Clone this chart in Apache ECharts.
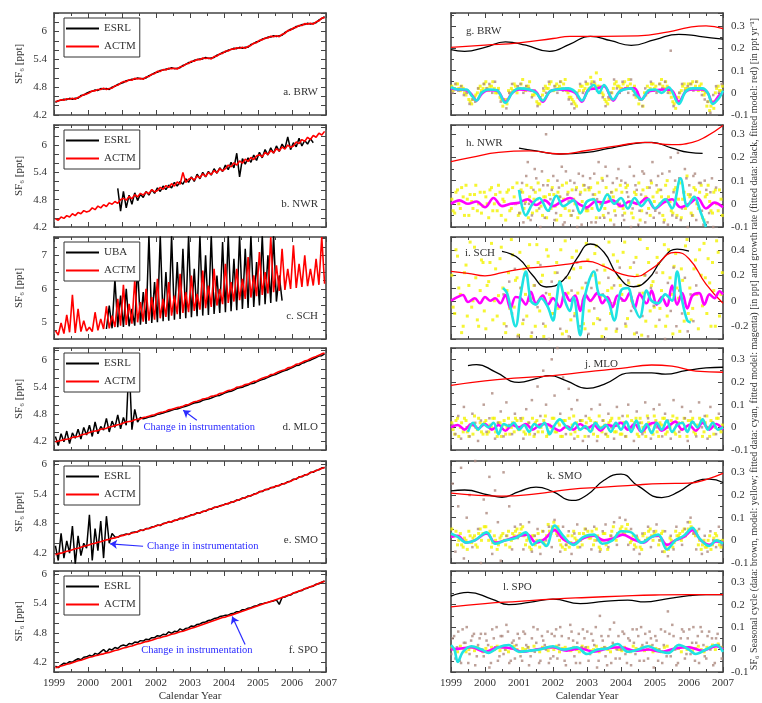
<!DOCTYPE html>
<html><head><meta charset="utf-8">
<script src="https://cdn.jsdelivr.net/npm/echarts/dist/echarts.min.js"></script>
<style>html,body{margin:0;padding:0;background:#fff}#c{width:762px;height:703px}</style>
</head><body><div id="c"></div>
<script>
const _ = null;
const yearLabels = ['1999','2000','2001','2002','2003','2004','2005','2006','2007'];

// ---------- LEFT COLUMN: monthly SF6 mixing ratios [ppt], Jan 1999 .. Dec 2006 ----------
const brwESRL = [
4.47,4.51,4.52,4.54,4.53,4.56,4.54,4.56,4.56,4.62,4.63,4.67,
4.70,4.71,4.74,4.73,4.77,4.76,4.77,4.75,4.80,4.82,4.86,4.88,
4.90,4.94,4.95,4.97,4.97,5.00,4.98,4.99,5.00,5.05,5.07,5.11,
5.12,5.16,5.17,5.19,5.19,5.22,5.20,5.21,5.22,5.27,5.29,5.33,
5.34,5.38,5.39,5.41,5.41,5.44,5.42,5.43,5.44,5.49,5.51,5.55,
5.56,5.60,5.61,5.64,5.63,5.66,5.64,5.66,5.66,5.72,5.74,5.78,
5.79,5.84,5.85,5.88,5.88,5.91,5.89,5.91,5.92,5.98,6.01,6.05,
6.06,6.11,6.12,6.15,6.15,6.18,6.16,6.18,6.19,6.25,6.28,6.32];
const brwACTM = [
4.49,4.50,4.53,4.52,4.55,4.54,4.56,4.54,4.58,4.60,4.64,4.65,
4.68,4.72,4.72,4.75,4.75,4.78,4.75,4.77,4.78,4.83,4.84,4.89,
4.92,4.92,4.96,4.95,4.99,4.98,4.99,4.97,5.02,5.03,5.08,5.09,
5.14,5.14,5.18,5.17,5.21,5.20,5.21,5.19,5.24,5.25,5.30,5.31,
5.36,5.36,5.40,5.39,5.43,5.42,5.43,5.41,5.46,5.47,5.52,5.53,
5.58,5.58,5.62,5.62,5.65,5.64,5.66,5.64,5.68,5.70,5.75,5.76,
5.81,5.82,5.86,5.86,5.90,5.89,5.91,5.89,5.94,5.96,6.02,6.03,
6.08,6.09,6.13,6.13,6.17,6.16,6.18,6.16,6.21,6.23,6.29,6.30];

const nwrESRL = [
_,_,_,_,_,_,_,_,_,_,_,_,
_,_,_,_,_,_,_,_,_,_,5.05,4.55,
4.98,4.62,4.90,4.70,4.95,4.78,4.92,4.85,4.98,4.90,5.02,4.94,
5.06,4.98,5.10,5.02,5.12,5.06,5.18,5.10,5.20,5.14,5.26,5.18,
5.30,5.20,5.36,5.26,5.40,5.30,5.42,5.34,5.48,5.38,5.50,5.42,
5.56,5.46,5.62,5.50,5.82,5.30,5.70,5.58,5.72,5.62,5.78,5.66,
5.84,5.72,5.90,5.78,5.94,5.82,5.98,5.86,6.02,5.92,6.18,5.90,
6.05,5.96,6.15,5.98,6.10,6.02,6.14,6.05,_,_,_,_];
const nwrACTM = [
4.38,4.35,4.42,4.39,4.45,4.42,4.49,4.45,4.52,4.49,4.56,4.53,
4.55,4.62,4.58,4.66,4.62,4.69,4.65,4.73,4.70,4.76,4.72,4.80,
4.83,4.79,4.87,4.82,4.91,4.86,4.94,4.90,4.97,4.93,5.02,4.97,
5.00,5.07,5.03,5.11,5.07,5.15,5.10,5.19,5.14,5.40,5.18,5.25,
5.28,5.23,5.32,5.28,5.37,5.31,5.40,5.35,5.44,5.39,5.48,5.43,
5.48,5.56,5.52,5.61,5.56,5.65,5.60,5.69,5.64,5.73,5.68,5.76,
5.79,5.74,5.84,5.79,5.88,5.83,5.92,5.87,5.96,5.91,6.00,5.95,
5.98,6.07,6.03,6.12,6.08,6.17,6.12,6.21,6.17,6.26,6.22,6.30];

const schUBA = [
_,_,_,_,_,_,_,_,_,_,_,_,
_,_,_,_,_,_,4.80,5.50,4.82,6.30,4.85,5.80,
4.86,6.00,4.88,5.40,4.90,6.70,4.93,5.90,4.95,7.60,4.98,6.20,
5.00,7.60,5.03,6.50,5.05,7.60,5.08,6.80,5.10,7.20,5.12,7.60,
5.15,6.60,5.18,7.60,5.20,7.00,5.22,7.60,5.25,6.40,5.28,7.40,
5.30,7.60,5.33,6.90,5.36,7.60,5.40,7.20,5.43,7.60,5.46,6.80,
5.50,7.60,5.54,7.00,5.58,7.60,5.62,6.40,5.65,_,_,_,
_,_,_,_,_,_,_,_,_,_,_,_];
const schACTM = [
4.75,4.62,4.98,4.66,5.22,4.70,5.82,4.68,5.40,4.72,5.05,4.74,
4.85,4.72,5.30,4.76,5.10,4.80,5.48,4.82,5.20,4.86,5.70,4.90,
6.12,4.92,5.55,4.96,6.26,5.00,5.60,5.02,6.00,5.05,5.75,5.08,
6.30,5.12,5.70,5.16,6.20,5.20,5.80,5.24,6.45,5.28,5.90,5.30,
6.40,5.34,5.85,5.38,6.55,5.42,6.10,5.46,6.60,5.50,6.00,5.54,
6.75,5.58,6.20,5.62,6.60,5.66,6.30,5.70,6.95,5.74,6.40,5.78,
7.10,5.82,6.50,5.86,7.55,5.90,6.70,5.94,7.20,5.97,6.60,6.00,
7.30,6.03,6.75,6.06,7.00,6.08,6.60,6.10,6.90,6.12,7.55,6.15];

const mloESRL = [
4.30,4.10,4.36,4.18,4.42,4.14,4.38,4.26,4.46,4.24,4.50,4.33,
4.55,4.30,4.62,4.36,4.52,4.44,4.70,4.40,4.64,4.50,4.78,4.47,
4.72,4.55,5.95,4.45,4.90,4.62,4.72,4.69,4.71,4.73,4.74,4.76,
4.79,4.80,4.82,4.84,4.86,4.88,4.90,4.91,4.93,4.95,4.97,4.99,
5.02,5.04,5.05,5.07,5.10,5.12,5.13,5.15,5.18,5.20,5.21,5.24,
5.27,5.29,5.30,5.33,5.36,5.38,5.39,5.42,5.44,5.47,5.48,5.51,
5.54,5.56,5.58,5.61,5.64,5.66,5.68,5.71,5.74,5.76,5.78,5.81,
5.84,5.87,5.88,5.92,5.94,5.97,5.99,6.02,6.05,6.08,6.09,6.13];
const mloACTM = [
4.18,4.20,4.21,4.23,4.24,4.25,4.28,4.29,4.30,4.33,4.35,4.36,
4.39,4.41,4.42,4.43,4.46,4.47,4.48,4.51,4.52,4.54,4.56,4.57,
4.60,4.62,4.63,4.64,4.67,4.68,4.69,4.72,4.73,4.75,4.77,4.78,
4.81,4.83,4.84,4.86,4.89,4.90,4.92,4.94,4.95,4.97,5.00,5.01,
5.04,5.07,5.08,5.10,5.13,5.14,5.16,5.19,5.20,5.22,5.25,5.26,
5.29,5.32,5.33,5.35,5.39,5.40,5.42,5.45,5.46,5.49,5.52,5.53,
5.56,5.59,5.61,5.63,5.67,5.68,5.71,5.74,5.76,5.78,5.82,5.83,
5.86,5.90,5.91,5.94,5.97,5.99,6.02,6.05,6.07,6.10,6.13,6.15];

const smoESRL = [
4.35,4.05,4.60,4.10,4.45,4.20,4.75,3.98,4.55,4.15,4.40,4.30,
4.98,4.05,4.70,4.25,4.85,4.10,4.95,4.40,4.60,4.53,4.52,4.56,
4.57,4.59,4.58,4.62,4.63,4.63,4.67,4.66,4.70,4.70,4.73,4.74,
4.77,4.76,4.80,4.81,4.84,4.83,4.87,4.87,4.91,4.90,4.94,4.95,
4.98,4.98,5.02,5.01,5.05,5.05,5.09,5.09,5.13,5.13,5.16,5.17,
5.20,5.20,5.24,5.24,5.28,5.28,5.32,5.32,5.36,5.36,5.40,5.41,
5.45,5.45,5.49,5.49,5.53,5.53,5.57,5.57,5.61,5.61,5.65,5.66,
5.70,5.70,5.75,5.75,5.79,5.79,5.84,5.84,5.88,5.89,5.93,5.94];
const smoACTM = [
4.17,4.19,4.20,4.22,4.24,4.25,4.27,4.29,4.30,4.32,4.34,4.35,
4.37,4.39,4.40,4.42,4.43,4.45,4.47,4.48,4.50,4.51,4.53,4.55,
4.56,4.58,4.59,4.61,4.62,4.64,4.66,4.67,4.69,4.70,4.72,4.74,
4.76,4.77,4.79,4.81,4.83,4.84,4.86,4.88,4.90,4.91,4.93,4.95,
4.97,4.99,5.01,5.02,5.04,5.06,5.08,5.10,5.12,5.14,5.15,5.17,
5.19,5.21,5.23,5.25,5.27,5.29,5.31,5.33,5.35,5.37,5.39,5.41,
5.44,5.46,5.48,5.50,5.52,5.54,5.56,5.58,5.60,5.62,5.64,5.66,
5.69,5.71,5.74,5.76,5.78,5.80,5.83,5.85,5.87,5.90,5.92,5.94];

const spoESRL = [
4.12,4.09,4.14,4.18,4.17,4.21,4.20,4.24,4.27,4.25,4.30,4.31,
4.34,4.32,4.38,4.36,4.41,4.46,4.40,4.47,4.45,4.50,4.48,4.53,
4.55,4.53,4.58,4.57,4.61,4.60,4.64,4.63,4.67,4.66,4.70,4.70,
4.74,4.73,4.77,4.76,4.82,4.79,4.83,4.82,4.88,4.85,4.89,4.90,
4.94,4.93,4.97,4.98,5.01,5.02,5.05,5.06,5.09,5.10,5.13,5.14,
5.16,5.16,5.19,5.20,5.23,5.23,5.27,5.27,5.30,5.31,5.34,5.35,
5.38,5.39,5.41,5.42,5.44,5.45,5.47,5.38,5.52,5.53,5.56,5.57,
5.61,5.62,5.65,5.66,5.70,5.71,5.74,5.75,5.79,5.80,5.83,5.86];
const spoACTM = [
4.09,4.10,4.12,4.14,4.16,4.17,4.19,4.21,4.23,4.24,4.26,4.28,
4.30,4.31,4.33,4.34,4.36,4.37,4.39,4.40,4.42,4.44,4.45,4.47,
4.49,4.50,4.52,4.53,4.55,4.57,4.58,4.60,4.62,4.63,4.65,4.67,
4.69,4.70,4.72,4.73,4.75,4.77,4.78,4.80,4.82,4.83,4.85,4.87,
4.89,4.91,4.93,4.95,4.97,4.99,5.01,5.03,5.05,5.07,5.09,5.11,
5.12,5.14,5.16,5.18,5.20,5.22,5.24,5.26,5.28,5.30,5.32,5.34,
5.36,5.38,5.40,5.42,5.44,5.46,5.48,5.50,5.52,5.54,5.56,5.58,
5.61,5.63,5.65,5.67,5.70,5.72,5.74,5.76,5.78,5.81,5.83,5.85];

// ---------- RIGHT COLUMN ----------
// growth rates [year, ppt/yr]
const brwGrowthData  = [[1999,0.195],[1999.4,0.187],[2000,0.205],[2000.6,0.23],[2001.2,0.215],[2001.9,0.187],[2002.5,0.22],[2003.1,0.255],[2003.7,0.235],[2004.3,0.214],[2005,0.24],[2005.7,0.264],[2006.3,0.255],[2007,0.242]];
const brwGrowthModel = [[1999,0.205],[2000,0.215],[2001,0.225],[2002,0.245],[2002.5,0.255],[2003.5,0.255],[2004.5,0.257],[2005.4,0.275],[2006,0.295],[2006.5,0.302],[2007,0.29]];
const nwrGrowthData  = [[2001,0.24],[2001.5,0.228],[2002.2,0.215],[2003,0.222],[2003.6,0.238],[2004.3,0.258],[2004.9,0.265],[2005.5,0.24],[2006,0.222],[2006.4,0.218]];
const nwrGrowthModel = [[1999,0.182],[1999.6,0.2],[2000.4,0.222],[2001.3,0.228],[2002.2,0.215],[2003,0.23],[2003.9,0.25],[2004.7,0.265],[2005.5,0.255],[2006.1,0.265],[2006.5,0.29],[2007,0.338]];
const schGrowthData  = [[2000.5,0.387],[2001,0.33],[2001.4,0.2],[2001.8,0.108],[2002.3,0.16],[2002.7,0.33],[2003.1,0.445],[2003.5,0.38],[2003.9,0.2],[2004.37,0.11],[2004.8,0.17],[2005.2,0.32],[2005.65,0.405],[2006.0,0.39]];
const schGrowthModel = [[1999,0.23],[1999.5,0.215],[2000,0.195],[2000.5,0.22],[2001.1,0.25],[2001.9,0.27],[2002.5,0.29],[2003.0,0.31],[2003.5,0.27],[2004.0,0.21],[2004.4,0.19],[2004.9,0.25],[2005.6,0.38],[2006.0,0.33],[2006.5,0.13],[2007,-0.02]];
const mloGrowthData  = [[1999.5,0.272],[1999.75,0.277],[2000.3,0.245],[2001.0,0.198],[2001.5,0.215],[2001.9,0.228],[2002.4,0.205],[2003.0,0.172],[2003.5,0.19],[2004.3,0.24],[2004.9,0.24],[2005.3,0.235],[2005.9,0.25],[2006.5,0.262],[2007,0.265]];
const mloGrowthModel = [[1999,0.185],[2000,0.205],[2001,0.218],[2002,0.228],[2003,0.245],[2004,0.26],[2004.9,0.275],[2005.5,0.27],[2006.2,0.248],[2007,0.243]];
const smoGrowthData  = [[1999,0.218],[1999.4,0.222],[2000.1,0.2],[2000.5,0.19],[2001,0.215],[2001.5,0.235],[2002.0,0.215],[2002.55,0.176],[2003.0,0.2],[2003.5,0.265],[2004.0,0.292],[2004.5,0.24],[2005.2,0.188],[2005.7,0.215],[2006.2,0.26],[2006.6,0.27],[2007,0.255]];
const smoGrowthModel = [[1999,0.208],[1999.8,0.198],[2000.5,0.195],[2001.5,0.205],[2002.5,0.225],[2003.5,0.235],[2004.5,0.245],[2005.2,0.25],[2006,0.252],[2006.5,0.268],[2007,0.295]];
const spoGrowthData  = [[1999,0.238],[1999.5,0.255],[2000.2,0.225],[2000.7,0.2],[2001.3,0.21],[2002,0.225],[2002.8,0.205],[2003.5,0.215],[2004.2,0.22],[2004.7,0.212],[2005.3,0.225],[2006,0.24],[2006.5,0.245],[2007,0.245]];
const spoGrowthModel = [[1999,0.19],[2000,0.205],[2001,0.215],[2002,0.225],[2003,0.232],[2004,0.238],[2005,0.243],[2006,0.245],[2007,0.245]];

// fitted seasonal cycles [year, ppt]
const brwSeasModel = [[1999.0,0.02],[1999.2,0.015],[1999.45,0.012],[1999.62,-0.01],[1999.75,-0.035],[1999.9,-0.005],[2000.1,0.012],[2000.35,0.01],[2000.6,-0.04],[2000.8,0.0],[2001.0,0.015],[2001.3,0.012],[2001.5,0.005],[2001.7,-0.04],[2001.9,0.005],[2002.1,0.015],[2002.45,0.012],[2002.65,0.0],[2002.85,-0.04],[2003.05,0.015],[2003.3,0.02],[2003.5,0.03],[2003.77,-0.035],[2003.95,0.005],[2004.2,0.02],[2004.4,0.02],[2004.6,-0.03],[2004.8,0.005],[2005.0,0.012],[2005.3,0.015],[2005.5,0.01],[2005.7,-0.04],[2005.9,0.005],[2006.1,0.015],[2006.4,0.015],[2006.55,0.0],[2006.7,-0.045],[2006.9,-0.01],[2007.0,0.0]];
const brwSeasData = [[1999.0,0.025],[1999.2,0.015],[1999.45,0.015],[1999.62,-0.015],[1999.75,-0.035],[1999.9,0.0],[2000.1,0.015],[2000.35,0.012],[2000.6,-0.045],[2000.8,0.0],[2001.0,0.02],[2001.3,0.015],[2001.5,0.0],[2001.7,-0.035],[2001.9,0.005],[2002.1,0.015],[2002.45,0.02],[2002.65,0.005],[2002.85,-0.035],[2003.05,0.015],[2003.2,0.035],[2003.35,0.0],[2003.5,0.035],[2003.77,-0.03],[2003.95,0.005],[2004.1,0.015],[2004.3,0.02],[2004.45,-0.01],[2004.6,-0.03],[2004.8,0.01],[2005.0,0.015],[2005.2,0.0],[2005.4,0.025],[2005.7,-0.05],[2005.9,0.005],[2006.1,0.02],[2006.4,0.02],[2006.55,0.0],[2006.7,-0.05],[2006.9,-0.02],[2007.0,0.01]];
const nwrSeasModel = [[1999.0,0.0],[1999.25,0.015],[1999.5,0.0],[1999.75,0.01],[2000.0,-0.015],[2000.25,0.025],[2000.5,-0.01],[2000.75,0.0],[2001.0,0.005],[2001.25,0.02],[2001.5,-0.005],[2001.75,0.015],[2002.0,-0.01],[2002.25,0.01],[2002.5,0.025],[2002.75,0.0],[2003.0,-0.015],[2003.25,0.01],[2003.5,0.005],[2003.75,0.015],[2004.0,-0.01],[2004.25,0.01],[2004.5,0.0],[2004.75,0.025],[2005.0,-0.02],[2005.25,0.005],[2005.5,0.02],[2005.75,-0.015],[2006.0,0.0],[2006.25,0.025],[2006.5,-0.02],[2006.75,0.005],[2007.0,-0.015]];
const nwrSeasData = [[2001.0,0.06],[2001.2,-0.05],[2001.4,0.0],[2001.6,0.025],[2001.85,-0.03],[2002.1,0.035],[2002.3,-0.01],[2002.6,0.015],[2002.8,-0.04],[2003.0,0.01],[2003.2,0.02],[2003.35,-0.03],[2003.6,0.04],[2003.8,0.0],[2004.0,0.025],[2004.2,-0.02],[2004.4,0.025],[2004.6,-0.01],[2004.8,0.02],[2005.0,-0.02],[2005.3,0.02],[2005.5,-0.02],[2005.75,0.11],[2005.95,-0.01],[2006.15,0.03],[2006.35,-0.04],[2006.5,-0.1]];
const schSeasModel = [[1999.0,0.0],[1999.2,0.03],[1999.35,0.045],[1999.5,-0.01],[1999.7,0.02],[1999.85,-0.02],[2000.0,0.03],[2000.15,0.0],[2000.3,0.02],[2000.45,-0.02],[2000.6,0.045],[2000.75,-0.06],[2000.9,0.03],[2001.05,0.02],[2001.2,-0.03],[2001.35,0.07],[2001.5,-0.02],[2001.7,0.04],[2001.85,-0.03],[2002.0,0.02],[2002.2,-0.05],[2002.35,0.06],[2002.5,0.0],[2002.65,0.04],[2002.8,-0.08],[2002.95,0.05],[2003.1,0.0],[2003.3,0.06],[2003.45,-0.02],[2003.6,0.03],[2003.75,-0.05],[2003.9,0.04],[2004.1,0.0],[2004.25,0.06],[2004.4,-0.06],[2004.55,0.05],[2004.75,-0.02],[2004.9,0.08],[2005.05,-0.03],[2005.2,0.03],[2005.35,-0.04],[2005.5,0.12],[2005.65,-0.03],[2005.8,0.06],[2005.95,-0.06],[2006.1,0.04],[2006.3,0.06],[2006.45,-0.03],[2006.6,0.05],[2006.75,0.02],[2006.9,0.075],[2007.0,0.05]];
const schSeasData = [[2000.53,0.1],[2000.65,0.06],[2000.9,-0.2],[2001.05,0.05],[2001.2,0.23],[2001.35,0.0],[2001.5,-0.03],[2001.65,0.02],[2001.85,-0.05],[2002.0,-0.155],[2002.1,0.0],[2002.2,0.15],[2002.35,0.0],[2002.5,-0.08],[2002.6,0.03],[2002.8,-0.27],[2002.95,0.05],[2003.2,0.23],[2003.35,0.05],[2003.5,0.04],[2003.65,-0.02],[2003.8,-0.155],[2004.0,0.08],[2004.2,0.1],[2004.35,-0.02],[2004.55,-0.13],[2004.75,0.08],[2004.9,0.0],[2005.1,-0.02],[2005.3,0.05],[2005.5,0.0],[2005.65,0.23],[2005.8,0.0],[2005.95,-0.155],[2006.05,-0.17]];
const mloSeasModel = [[1999,0.0],[1999.2,0.01],[1999.4,-0.01],[1999.6,0.015],[1999.8,-0.005],[2000,0.015],[2000.2,-0.01],[2000.4,0.01],[2000.6,-0.015],[2000.8,0.01],[2001,0.0],[2001.2,0.015],[2001.4,-0.01],[2001.6,0.01],[2001.8,0.015],[2002,0.0],[2002.2,-0.015],[2002.4,0.005],[2002.6,-0.01],[2002.8,0.015],[2003,-0.005],[2003.2,0.01],[2003.4,-0.015],[2003.6,0.01],[2003.8,0.005],[2004,0.02],[2004.2,-0.01],[2004.4,0.015],[2004.6,-0.02],[2004.8,0.01],[2005,0.02],[2005.2,-0.015],[2005.4,0.005],[2005.6,0.025],[2005.8,-0.01],[2006,0.01],[2006.2,-0.015],[2006.4,0.02],[2006.6,-0.01],[2006.8,0.015],[2007,-0.01]];
const mloSeasData = [[1999.5,-0.02],[1999.65,0.02],[1999.8,-0.01],[1999.95,0.015],[2000.1,0.0],[2000.25,0.02],[2000.4,-0.03],[2000.55,0.015],[2000.7,0.005],[2000.85,0.02],[2001.0,-0.01],[2001.15,0.01],[2001.3,-0.02],[2001.45,0.015],[2001.6,0.0],[2001.75,0.02],[2001.9,-0.03],[2002.05,0.01],[2002.2,0.035],[2002.35,0.01],[2002.5,-0.01],[2002.65,0.02],[2002.8,-0.01],[2002.95,0.005],[2003.1,-0.02],[2003.25,0.02],[2003.4,-0.005],[2003.55,0.01],[2003.7,-0.02],[2003.85,0.02],[2004.0,-0.01],[2004.15,0.025],[2004.3,-0.02],[2004.45,0.03],[2004.6,-0.02],[2004.75,0.015],[2004.9,-0.025],[2005.05,0.02],[2005.2,-0.01],[2005.35,0.03],[2005.5,-0.02],[2005.65,0.01],[2005.8,0.02],[2005.95,-0.02],[2006.1,0.025],[2006.25,0.0],[2006.4,0.035],[2006.55,-0.01],[2006.7,0.02],[2006.85,-0.01],[2007.0,0.0]];
const smoSeasModel = [[1999,0.015],[1999.2,0.02],[1999.45,-0.01],[1999.7,0.0],[2000.05,0.03],[2000.3,-0.01],[2000.6,0.0],[2000.9,0.015],[2001.25,0.025],[2001.5,-0.01],[2001.75,0.005],[2002.05,0.045],[2002.3,0.005],[2002.6,-0.015],[2002.9,0.01],[2003.2,0.02],[2003.5,0.0],[2003.8,0.01],[2004.05,0.025],[2004.35,0.005],[2004.65,-0.01],[2004.9,0.015],[2005.1,0.02],[2005.35,-0.02],[2005.6,0.0],[2005.85,0.015],[2006.1,0.045],[2006.35,0.0],[2006.6,-0.02],[2006.8,-0.005],[2007,-0.01]];
const smoSeasData = [[1999,0.03],[1999.2,0.015],[1999.45,-0.01],[1999.7,0.0],[2000.05,0.035],[2000.3,-0.015],[2000.6,0.0],[2000.9,0.01],[2001.2,0.035],[2001.4,-0.02],[2001.6,0.0],[2001.8,-0.025],[2002.05,0.065],[2002.3,0.02],[2002.6,-0.02],[2002.9,0.015],[2003.2,0.025],[2003.45,-0.015],[2003.75,0.0],[2004.0,0.04],[2004.3,0.035],[2004.6,-0.01],[2004.9,0.015],[2005.1,0.025],[2005.35,-0.04],[2005.6,0.0],[2005.85,0.02],[2006.1,0.055],[2006.3,0.01],[2006.6,-0.025],[2006.8,0.0],[2007,-0.015]];
const spoSeasModel = [[1999,0.0],[1999.3,0.005],[1999.6,0.01],[2000,-0.01],[2000.4,0.01],[2000.8,0.005],[2001.1,-0.01],[2001.5,0.0],[2002,0.01],[2002.4,-0.005],[2002.8,0.005],[2003.2,-0.01],[2003.6,0.005],[2004,0.01],[2004.4,-0.005],[2004.8,0.0],[2005.2,-0.01],[2005.6,0.005],[2006,0.01],[2006.4,-0.005],[2006.8,0.015],[2007,0.0]];
const spoSeasData = [[1999,0.02],[1999.1,0.0],[1999.2,-0.055],[1999.35,-0.01],[1999.6,0.015],[1999.9,0.0],[2000.1,-0.015],[2000.4,0.01],[2000.7,0.02],[2001.0,-0.01],[2001.3,-0.005],[2001.6,0.0],[2002.0,0.015],[2002.3,0.0],[2002.7,0.01],[2003.0,-0.02],[2003.3,0.0],[2003.6,0.005],[2003.9,0.025],[2004.2,-0.01],[2004.5,0.0],[2004.8,0.015],[2005.1,-0.005],[2005.4,-0.015],[2005.7,0.02],[2006.0,0.0],[2006.2,-0.02],[2006.5,0.0],[2006.8,0.02],[2007,-0.01]];

// detrended monthly points (model: yellow, data: brown), Jan 1999 .. Dec 2006
const brwPtsModel = [
0.03,0.02,0.04,0.01,0.02,-0.01,-0.03,-0.05,-0.02,0.0,0.03,0.02,
0.05,0.01,0.03,0.02,0.0,-0.02,-0.06,-0.03,0.01,0.02,0.04,0.0,
0.02,0.06,0.01,0.03,0.01,-0.01,-0.04,-0.05,-0.01,0.03,0.02,0.05,
0.01,0.04,0.03,0.02,0.06,0.0,-0.02,-0.04,-0.06,0.01,0.03,0.02,
0.04,0.07,0.02,0.09,0.03,0.0,-0.03,-0.05,-0.02,0.02,0.05,0.03,
0.02,0.05,0.03,0.04,0.01,-0.02,-0.05,-0.03,0.0,0.03,0.02,0.04,
0.03,0.01,0.06,0.02,0.03,0.0,-0.04,-0.07,-0.02,0.01,0.04,0.02,
0.02,0.05,0.03,0.01,0.04,-0.01,-0.06,-0.08,-0.04,0.0,0.03,0.01];
const brwPtsModel2 = [
0.01,0.04,0.02,0.03,0.0,0.01,-0.04,-0.03,-0.01,0.02,0.01,0.04,
0.02,0.03,0.05,0.0,0.02,-0.03,-0.04,-0.05,0.0,0.01,0.03,0.02,
0.04,0.02,0.03,0.05,-0.01,0.0,-0.05,-0.03,0.01,0.02,0.04,0.01,
0.03,0.02,0.05,0.04,0.01,-0.02,-0.03,-0.05,-0.02,0.03,0.01,0.04,
0.02,0.05,0.04,0.03,0.06,-0.01,-0.04,-0.03,0.0,0.04,0.03,0.02,
0.04,0.02,0.06,0.02,0.03,0.0,-0.03,-0.06,-0.01,0.01,0.04,0.02,
0.01,0.04,0.03,0.05,0.01,-0.02,-0.05,-0.04,0.0,0.03,0.02,0.04,
0.04,0.02,0.05,0.03,0.01,0.0,-0.04,-0.06,-0.07,0.02,0.01,0.03];
const brwPtsData = [
0.0,0.04,0.01,0.03,-0.01,0.0,-0.05,-0.03,-0.04,0.02,0.0,0.04,
0.02,0.04,0.0,0.05,0.01,-0.04,-0.03,-0.07,0.0,0.04,0.01,0.03,
0.04,0.0,0.03,0.02,-0.02,0.01,-0.06,-0.02,0.02,0.0,0.05,0.01,
0.03,0.0,0.05,0.01,0.02,-0.03,-0.05,-0.07,0.0,0.04,0.0,0.05,
0.01,0.04,0.05,0.01,0.0,-0.02,-0.06,-0.02,0.0,0.06,0.02,0.0,
0.05,0.02,0.0,0.06,-0.01,0.0,-0.03,-0.06,0.02,0.0,0.05,0.01,
0.0,0.04,0.02,0.05,0.0,0.19,-0.06,-0.03,0.0,0.04,0.01,0.03,
0.04,0.01,0.05,0.02,-0.01,-0.03,-0.04,-0.09,-0.01,0.03,0.0,0.04];
const nwrPtsModel = [
0.02,-0.04,0.06,-0.02,0.03,0.08,-0.05,0.01,0.04,-0.03,0.05,-0.01,
0.03,-0.06,0.07,0.0,-0.03,0.05,0.02,-0.07,0.06,-0.02,0.03,0.09,
-0.04,0.05,0.01,-0.06,0.07,0.02,-0.03,0.06,-0.05,0.03,0.1,-0.02,
0.04,-0.07,0.03,0.08,-0.02,0.05,-0.05,0.02,0.07,-0.04,0.01,0.06,
-0.03,0.07,0.02,-0.06,0.05,0.11,-0.02,0.04,-0.07,0.03,0.06,-0.01,
0.05,-0.04,0.08,0.0,-0.06,0.04,0.09,-0.03,0.02,0.07,-0.05,0.03,
-0.02,0.06,0.03,-0.07,0.1,0.01,-0.04,0.07,0.02,-0.06,0.05,0.12,
0.03,-0.05,0.06,-0.02,0.08,-0.07,0.04,0.01,-0.04,0.06,-0.03,0.02];
const nwrPtsModel2 = [
-0.03,0.05,0.0,0.07,-0.05,0.02,0.04,-0.02,0.08,0.0,-0.04,0.05,
0.0,0.06,-0.03,0.04,0.08,-0.05,0.01,0.05,-0.03,0.07,0.0,-0.05,
0.06,-0.02,0.08,0.03,-0.04,0.05,0.09,-0.01,0.03,-0.06,0.04,0.07,
-0.01,0.05,-0.05,0.02,0.09,-0.03,0.06,0.0,-0.06,0.05,0.08,-0.03,
0.06,-0.02,0.04,0.09,0.0,-0.05,0.07,0.02,0.05,-0.03,0.01,0.08,
-0.02,0.07,0.01,-0.04,0.05,0.0,-0.07,0.06,0.03,-0.02,0.09,0.01,
0.05,0.0,-0.05,0.08,0.03,-0.03,0.06,-0.05,0.09,0.02,-0.02,0.04,
-0.04,0.07,0.0,0.05,-0.06,0.03,0.08,-0.03,0.05,0.0,0.06,-0.05];
const nwrPtsData = [
_,_,_,_,_,_,_,_,_,_,_,_,
_,_,_,_,_,_,_,_,_,_,_,_,
0.05,-0.08,0.12,0.0,-0.05,0.15,0.02,-0.1,0.08,0.3,-0.03,0.06,
-0.07,0.1,0.03,-0.09,0.14,0.01,-0.05,0.09,-0.1,0.04,0.12,-0.02,
0.07,-0.08,0.13,0.02,-0.06,0.1,0.16,-0.04,0.05,-0.09,0.11,0.0,
-0.05,0.09,0.03,-0.1,0.12,0.06,-0.03,0.14,-0.08,0.02,0.1,-0.06,
0.08,-0.04,0.13,0.01,-0.09,0.2,0.05,-0.06,0.11,-0.02,0.15,-0.1,
0.04,0.12,-0.07,0.09,-0.03,0.1,-0.08,0.05,-0.1,0.07,_,_];
const nwrPtsData2 = [
_,_,_,_,_,_,_,_,_,_,_,_,
_,_,_,_,_,_,_,_,_,_,_,_,
-0.04,0.09,0.0,0.18,-0.07,0.06,0.11,-0.02,0.14,-0.06,0.08,0.02,
0.12,-0.04,0.07,0.16,-0.08,0.04,0.1,-0.03,0.06,0.13,-0.09,0.08,
-0.02,0.11,0.04,-0.08,0.18,0.0,-0.06,0.12,0.03,0.09,-0.05,0.15,
0.1,-0.07,0.05,0.16,-0.02,0.08,-0.09,0.04,0.13,-0.04,0.07,0.18,
-0.03,0.12,0.06,-0.08,0.02,0.14,-0.05,0.1,0.22,-0.07,0.05,0.11,
0.08,-0.05,0.13,0.0,0.09,-0.09,0.06,-0.04,0.11,_,_,_];
const schPtsModel = [
0.2,-0.1,0.35,0.05,-0.2,0.28,0.12,-0.05,0.42,-0.15,0.08,0.3,
-0.22,0.15,0.45,0.0,-0.12,0.33,0.1,-0.25,0.22,0.48,-0.05,0.18,
0.38,-0.18,0.05,0.27,-0.28,0.12,0.44,-0.08,0.2,-0.2,0.35,0.02,
-0.1,0.3,0.15,-0.26,0.47,0.06,-0.15,0.25,0.39,-0.05,0.1,-0.22,
0.32,0.0,-0.18,0.43,0.14,-0.28,0.24,0.08,-0.1,0.36,-0.24,0.18,
0.05,0.46,-0.14,0.26,-0.04,0.34,0.12,-0.27,0.2,0.41,-0.08,0.15,
-0.2,0.29,0.08,0.44,-0.12,0.18,-0.26,0.37,0.02,0.25,-0.16,0.48,
0.1,-0.06,0.32,-0.22,0.2,0.45,-0.1,0.14,0.3,-0.2,0.38,0.05];
const schPtsModel2 = [
-0.05,0.4,0.1,-0.25,0.22,-0.12,0.46,0.0,0.18,-0.2,0.32,-0.08,
0.12,0.3,-0.15,0.25,0.04,0.42,-0.18,0.08,-0.06,0.36,0.16,-0.27,
0.1,0.25,-0.12,0.44,0.02,-0.2,0.3,0.15,-0.28,0.4,0.05,-0.1,
0.22,-0.06,0.4,0.02,-0.24,0.18,0.34,-0.1,0.06,0.26,-0.18,0.45,
-0.08,0.2,0.37,-0.14,0.03,0.28,-0.22,0.46,0.1,-0.02,0.31,0.12,
0.38,-0.2,0.14,0.0,-0.26,0.2,0.48,0.06,-0.16,0.3,0.12,-0.05,
0.34,-0.06,0.22,-0.2,0.4,0.05,0.27,0.1,-0.24,0.16,0.43,-0.1,
-0.15,0.25,0.05,0.4,-0.04,0.18,0.33,-0.2,0.08,0.47,-0.12,0.22];
const schPtsData = [
_,_,_,_,_,_,_,_,_,_,_,_,
_,_,_,_,_,_,0.05,-0.2,0.15,-0.1,0.25,-0.28,
0.1,-0.15,0.2,0.0,-0.25,0.12,-0.05,0.28,-0.18,0.06,-0.3,0.15,
-0.1,0.22,-0.22,0.03,0.18,-0.28,0.08,-0.12,0.3,-0.2,0.0,0.14,
-0.26,0.1,-0.06,0.24,-0.15,0.05,-0.3,0.18,-0.02,0.12,-0.22,0.26,
0.0,-0.18,0.16,-0.08,0.3,-0.25,0.06,-0.12,0.2,-0.28,0.1,-0.04,
0.22,-0.15,0.02,-0.3,0.14,-0.08,0.26,-0.2,0.08,-0.1,0.18,-0.24,
0.05,-0.16,0.12,_,_,_,_,_,_,_,_,_];
const mloPtsModel = [
0.02,-0.03,0.04,0.0,-0.02,0.03,-0.04,0.01,0.05,-0.01,0.02,-0.03,
0.03,-0.02,0.0,0.04,-0.04,0.02,0.01,-0.03,0.04,0.0,-0.02,0.03,
-0.01,0.04,-0.03,0.02,0.0,-0.04,0.03,0.01,-0.02,0.05,-0.03,0.0,
0.04,-0.02,0.01,-0.04,0.03,0.0,-0.03,0.05,0.02,-0.01,0.03,-0.04,
0.0,0.03,-0.03,0.02,0.05,-0.02,0.01,-0.04,0.03,0.0,-0.02,0.04,
-0.03,0.02,0.05,-0.01,0.0,0.04,-0.04,0.02,-0.02,0.05,0.01,-0.03,
0.03,-0.04,0.01,0.04,-0.02,0.0,0.05,-0.03,0.02,-0.01,0.04,-0.04,
0.01,0.04,-0.03,0.0,0.03,-0.02,0.05,-0.04,0.02,0.0,0.04,-0.02];
const mloPtsModel2 = [
-0.01,0.03,-0.04,0.02,0.04,-0.02,0.01,-0.03,0.0,0.04,-0.02,0.02,
-0.03,0.01,0.04,-0.02,0.02,-0.04,0.03,0.0,-0.03,0.02,0.04,-0.01,
0.03,-0.02,0.01,-0.03,0.04,0.02,-0.02,0.0,0.03,-0.04,0.01,0.04,
-0.02,0.02,-0.04,0.03,0.0,0.04,0.01,-0.02,-0.04,0.03,0.0,0.02,
0.04,-0.01,0.02,-0.04,0.0,0.03,-0.03,0.02,0.04,-0.02,0.01,-0.03,
0.02,-0.04,0.0,0.03,0.02,-0.03,0.04,0.0,-0.04,0.02,-0.02,0.05,
-0.02,0.02,0.04,-0.03,0.0,0.03,-0.02,0.04,-0.04,0.02,0.0,0.03,
0.03,-0.02,0.01,0.04,-0.04,0.02,0.0,0.03,-0.03,0.04,-0.01,0.01];
const mloPtsData = [
0.01,-0.03,0.05,-0.05,0.09,0.0,-0.04,0.06,0.02,-0.06,0.03,0.1,
-0.02,0.04,0.15,-0.05,0.02,0.07,-0.04,0.11,0.01,-0.03,0.06,0.0,
0.04,-0.05,0.08,0.02,0.12,-0.03,0.18,0.05,0.25,0.1,-0.02,0.3,
0.14,0.35,0.06,0.22,-0.03,0.17,0.08,-0.05,0.12,0.03,-0.06,0.05,
-0.04,0.08,0.01,-0.06,0.1,0.03,-0.03,0.06,0.0,-0.05,0.09,0.02,
0.05,-0.04,0.1,0.0,-0.06,0.07,0.02,-0.03,0.11,0.04,-0.05,0.08,
0.0,0.1,-0.04,0.06,0.03,-0.05,0.12,0.01,-0.02,0.09,0.04,-0.06,
0.07,0.02,-0.04,0.11,0.0,0.05,-0.05,0.09,0.02,-0.03,0.06,0.0];
const smoPtsModel = [
0.05,0.02,-0.02,0.03,-0.03,0.0,0.04,-0.01,0.02,-0.03,0.05,0.03,
0.06,0.0,-0.03,0.02,-0.04,0.01,0.03,-0.02,0.04,0.0,0.02,0.05,
0.03,0.06,-0.02,0.01,-0.04,0.02,0.0,-0.03,0.04,-0.02,0.07,0.03,
0.08,0.03,0.0,-0.03,-0.04,0.02,-0.01,0.04,0.0,0.03,-0.02,0.05,
0.04,0.01,-0.02,0.05,-0.03,0.0,0.03,-0.04,0.02,0.06,0.0,0.03,
0.06,0.03,0.07,-0.01,0.02,-0.03,0.0,-0.04,0.03,0.01,0.05,0.0,
0.04,-0.02,0.03,-0.05,-0.02,0.01,-0.03,0.04,0.02,0.0,0.05,0.03,
0.08,0.05,0.02,-0.02,-0.04,0.0,-0.03,0.02,-0.02,0.03,0.0,-0.03];
const smoPtsModel2 = [
0.02,0.04,0.0,-0.02,0.01,-0.04,0.02,0.01,-0.02,0.03,0.0,0.06,
0.03,0.04,-0.01,0.0,-0.02,0.02,0.0,0.02,-0.03,0.03,0.04,0.02,
0.05,0.02,0.0,-0.03,0.02,-0.02,0.03,0.0,-0.01,0.02,0.04,0.06,
0.05,0.06,-0.02,0.01,-0.02,-0.03,0.02,0.01,-0.03,0.0,0.03,0.02,
0.01,0.04,0.0,0.02,-0.04,0.03,-0.02,0.0,0.04,0.01,0.03,0.05,
0.03,0.05,0.04,0.0,-0.02,0.01,-0.03,0.02,0.0,0.04,0.02,0.03,
0.02,0.0,0.04,-0.03,-0.04,0.0,-0.01,0.02,0.03,0.04,0.02,0.05,
0.06,0.03,0.04,0.0,-0.02,-0.03,0.0,-0.04,0.01,0.02,-0.02,0.0];
const smoPtsData = [
0.25,-0.05,0.15,0.32,-0.08,0.1,0.2,-0.03,0.35,0.05,-0.1,0.18,
0.12,0.28,-0.06,0.22,0.08,-0.09,0.3,0.02,0.15,-0.04,0.06,0.01,
0.07,-0.04,0.03,0.08,-0.05,0.02,0.05,-0.06,0.04,0.0,0.06,-0.03,
0.09,0.02,-0.05,0.06,-0.02,0.04,-0.06,0.03,0.07,-0.03,0.01,0.05,
0.02,-0.04,0.06,0.0,-0.05,0.04,0.07,-0.03,0.02,0.08,-0.02,0.1,
0.04,0.09,-0.02,0.05,-0.04,0.02,-0.06,0.03,0.0,0.06,-0.03,0.04,
0.07,0.0,-0.05,0.04,-0.07,0.02,-0.04,0.06,0.01,-0.02,0.05,0.08,
0.1,0.03,-0.04,0.05,-0.06,0.02,-0.05,0.04,0.0,-0.03,0.06,-0.02];
const spoPtsModel = [
0.01,0.0,-0.01,0.015,0.005,-0.01,0.0,0.01,-0.005,0.01,0.0,-0.01,
0.005,-0.01,0.01,0.0,0.015,-0.005,0.01,0.0,-0.01,0.005,0.015,0.0,
-0.01,0.005,0.0,0.01,-0.005,0.015,0.0,-0.01,0.01,0.005,-0.005,0.01,
0.0,0.015,-0.01,0.005,0.01,0.0,-0.005,0.01,0.0,-0.01,0.015,0.005,
0.01,-0.005,0.0,0.015,-0.01,0.005,0.01,0.0,-0.01,0.02,0.005,0.0,
-0.005,0.01,0.0,-0.01,0.015,0.005,0.0,0.01,-0.005,0.0,0.015,-0.01,
0.005,0.0,-0.01,0.01,0.015,-0.005,0.0,0.01,0.005,-0.01,0.01,0.0,
0.01,-0.005,0.005,0.015,0.0,-0.01,0.01,0.005,0.02,0.0,0.025,0.01];
const spoPtsData = [
0.05,-0.04,0.08,-0.06,0.03,0.1,-0.02,0.06,-0.07,0.02,0.07,-0.03,
0.04,-0.08,0.09,0.01,-0.05,0.06,-0.02,0.11,-0.06,0.03,-0.04,0.07,
-0.03,0.08,0.02,-0.07,0.05,-0.01,0.09,-0.05,0.04,0.0,-0.06,0.07,
0.06,-0.04,0.1,0.0,-0.07,0.05,0.08,-0.03,0.03,-0.06,0.09,0.01,
-0.05,0.07,0.02,-0.08,0.15,0.04,-0.03,0.06,-0.06,0.12,0.0,-0.04,
0.08,-0.02,0.05,-0.07,0.03,0.09,-0.05,0.02,0.07,-0.04,0.05,-0.08,
0.04,0.0,-0.06,0.08,0.17,-0.03,0.06,-0.07,0.02,0.09,-0.04,0.05,
-0.02,0.1,0.03,-0.06,0.08,-0.03,0.06,0.0,-0.07,0.05,0.02,-0.04];
const spoPtsData2 = [
-0.02,0.06,0.01,-0.05,0.09,0.03,-0.06,0.04,0.07,-0.03,0.05,0.0,
0.07,0.02,-0.06,0.05,0.1,-0.03,0.06,0.0,0.08,-0.05,0.04,0.02,
0.05,-0.05,0.07,0.01,-0.03,0.1,0.03,-0.06,0.06,0.02,0.08,-0.04,
-0.03,0.09,0.02,0.06,-0.05,0.0,0.11,0.04,-0.06,0.07,0.01,0.05,
0.08,-0.02,0.04,0.1,-0.05,0.06,0.01,-0.07,0.09,0.03,-0.04,0.06,
0.0,0.07,-0.06,0.04,0.09,-0.02,0.06,0.1,-0.05,0.03,0.08,0.02,
0.06,-0.05,0.09,0.02,-0.03,0.07,0.11,0.0,-0.06,0.05,0.08,-0.02,
0.09,0.03,-0.05,0.06,0.1,0.02,-0.04,0.08,0.05,-0.06,0.07,0.01];

// ---------- LAYOUT / STYLE ----------
const FONT = 'Liberation Serif';
const TOPS = [13,125,237,348,461,571];
const PH = 102, PW = 272, LX = 54, RX = 451;
const AX = '#444', TXT = '#333';
const C = {obs:'#000000', mod:'#ff0000', cyan:'#1fe3e3', mag:'#ff00ff', yel:'#f2f200', brn:'#ad8a80', blue:'#2b2bff'};

const leftPanels = [
  {obs:brwESRL, mod:brwACTM, obsName:'ESRL', min:4.2, max:6.4, step:0.2, base:4.2, lab:0.6, tag:'a. BRW'},
  {obs:nwrESRL, mod:nwrACTM, obsName:'ESRL', min:4.2, max:6.44, step:0.2, base:4.2, lab:0.6, tag:'b. NWR'},
  {obs:schUBA,  mod:schACTM, obsName:'UBA',  min:4.5, max:7.55, step:0.5, base:5, lab:1, tag:'c. SCH'},
  {obs:mloESRL, mod:mloACTM, obsName:'ESRL', min:4.0, max:6.26, step:0.2, base:4.2, lab:0.6, tag:'d. MLO'},
  {obs:smoESRL, mod:smoACTM, obsName:'ESRL', min:4.0, max:6.07, step:0.2, base:4.2, lab:0.6, tag:'e. SMO'},
  {obs:spoESRL, mod:spoACTM, obsName:'ESRL', min:4.0, max:6.06, step:0.2, base:4.2, lab:0.6, tag:'f. SPO'}
];
const rightPanels = [
  {gD:brwGrowthData, gM:brwGrowthModel, sD:brwSeasData, sM:brwSeasModel, pM:[brwPtsModel, brwPtsModel2], pD:[brwPtsData], min:-0.1, max:0.36, step:0.1, lab:0.1, tag:'g. BRW', tx:466, ty:19},
  {gD:nwrGrowthData, gM:nwrGrowthModel, sD:nwrSeasData, sM:nwrSeasModel, pM:[nwrPtsModel, nwrPtsModel2], pD:[nwrPtsData, nwrPtsData2], min:-0.1, max:0.34, step:0.1, lab:0.1, tag:'h. NWR', tx:466, ty:19},
  {gD:schGrowthData, gM:schGrowthModel, sD:schSeasData, sM:schSeasModel, pM:[schPtsModel, schPtsModel2], pD:[schPtsData], min:-0.3, max:0.5, step:0.1, lab:0.2, tag:'i. SCH', tx:465, ty:17},
  {gD:mloGrowthData, gM:mloGrowthModel, sD:mloSeasData, sM:mloSeasModel, pM:[mloPtsModel, mloPtsModel2], pD:[mloPtsData], min:-0.1, max:0.35, step:0.1, lab:0.1, tag:'j. MLO', tx:585, ty:17},
  {gD:smoGrowthData, gM:smoGrowthModel, sD:smoSeasData, sM:smoSeasModel, pM:[smoPtsModel, smoPtsModel2], pD:[smoPtsData], min:-0.1, max:0.35, step:0.1, lab:0.1, tag:'k. SMO', tx:547, ty:16},
  {gD:spoGrowthData, gM:spoGrowthModel, sD:spoSeasData, sM:spoSeasModel, pM:[spoPtsModel], pD:[spoPtsData, spoPtsData2], min:-0.1, max:0.35, step:0.1, lab:0.1, tag:'l. SPO', tx:503, ty:17}
];
// instrumentation-change annotations
const notes = [
  {panel:3, from:[2003.2,4.66], to:[2002.8,4.88], text:[2001.62,4.5]},
  {panel:4, from:[2001.62,4.34], to:[2000.65,4.39], text:[2001.72,4.34]},
  {panel:5, from:[2004.62,4.56], to:[2004.24,5.13], text:[2001.55,4.44]}
];

function monthly(arr, off){ const out=[]; arr.forEach((v,i)=>{ if(v!==null) out.push([1999+(i+off)/12, v]); }); return out; }
function fmtY(base, lab){ return v => { const k=(v-base)/lab; if (Math.abs(k-Math.round(k))>1e-6) return ''; const r=Math.round(v*10)/10; return r===0?'0':String(r); }; }

const grid=[], xAxis=[], yAxis=[], series=[], legend=[], graphic=[];
function addAxes(gi, left, top, ymin, ymax, step, fmt, labelRight, showX, minorY){
  grid.push({left:left, top:top, width:PW, height:PH, containLabel:false});
  const tick = {show:true, inside:true, length:5, lineStyle:{color:AX, width:1}};
  const mtick = {show:true, splitNumber:2, length:3, lineStyle:{color:AX, width:1}};
  const line = {show:true, onZero:false, lineStyle:{color:AX, width:1.6}};
  const lab = {fontFamily:FONT, fontSize:11, color:TXT};
  xAxis.push({gridIndex:gi, type:'value', position:'bottom', min:1999, max:2007, interval:1,
    axisLine:line, axisTick:tick, minorTick:mtick, splitLine:{show:false},
    axisLabel:Object.assign({show:showX, margin:6, formatter:v=>yearLabels[Math.round(v-1999)]}, lab),
    name: showX ? 'Calendar Year' : '', nameLocation:'middle', nameGap:19,
    nameTextStyle:{fontFamily:FONT, fontSize:11, color:TXT}});
  xAxis.push({gridIndex:gi, type:'value', position:'top', min:1999, max:2007, interval:1,
    axisLine:line, axisTick:tick, minorTick:mtick, splitLine:{show:false}, axisLabel:{show:false}});
  const yl = {gridIndex:gi, type:'value', min:ymin, max:ymax, interval:step,
    axisLine:line, axisTick:tick, minorTick:Object.assign({}, mtick, {show:minorY}), splitLine:{show:false}};
  yAxis.push(Object.assign({}, yl, {position:'left', axisLabel:Object.assign({show:!labelRight, margin:7, formatter:fmt}, lab),
    name: labelRight ? '' : 'SF\u2086 [ppt]', nameLocation:'middle', nameGap:29, nameRotate:90,
    nameTextStyle:{fontFamily:FONT, fontSize:11, color:TXT}}));
  yAxis.push(Object.assign({}, yl, {position:'right', axisLabel:Object.assign({show:labelRight, margin:8, formatter:fmt}, lab)}));
}

leftPanels.forEach((p, k) => {
  const gi = k;
  addAxes(gi, LX, TOPS[k], p.min, p.max, p.step, fmtY(p.base, p.lab), false, k===5, p.step===0.5);
  const obs = {name:p.obsName, type:'line', xAxisIndex:2*gi, yAxisIndex:2*gi, data:monthly(p.obs,0.5),
    showSymbol:false, symbol:'none', lineStyle:{color:C.obs, width:1.5}, itemStyle:{color:C.obs}, clip:true, connectNulls:false, z:2};
  const mod = {name:'ACTM', type:'line', xAxisIndex:2*gi, yAxisIndex:2*gi, data:monthly(p.mod,0.5),
    showSymbol:false, symbol:'none', lineStyle:{color:C.mod, width:1.6}, itemStyle:{color:C.mod}, clip:true, z:3};
  const note = notes.find(n => n.panel===k);
  if (note){
    mod.markLine = {silent:true, symbol:['none','arrow'], symbolSize:7, animation:false,
      lineStyle:{color:C.blue, width:1.2, type:'solid'}, label:{show:false},
      data:[[{coord:note.from},{coord:note.to}]]};
    mod.markPoint = {silent:true, animation:false, data:[{coord:note.text, symbol:'circle', symbolSize:1,
      itemStyle:{color:'rgba(0,0,0,0)'},
      label:{show:true, position:'right', distance:0, formatter:'Change in instrumentation', color:C.blue, fontFamily:FONT, fontSize:10.5}}]};
  }
  series.push(obs, mod);
  legend.push({data:[p.obsName,'ACTM'], left:LX+10, top:TOPS[k]+5, orient:'vertical', icon:'rect',
    itemWidth:33, itemHeight:2, itemGap:7, padding:[5,4,5,2], borderColor:'#333', borderWidth:1,
    backgroundColor:'#fff', selectedMode:false, textStyle:{fontFamily:FONT, fontSize:11, color:TXT}});
  graphic.push({type:'text', right:762-(LX+PW)+8, top:TOPS[k]+74, style:{text:p.tag, fontFamily:FONT, fontSize:11, fill:TXT}});
});

rightPanels.forEach((p, k) => {
  const gi = 6 + k;
  addAxes(gi, RX, TOPS[k], p.min, p.max, p.step, fmtY(0, p.lab), true, k===5, p.lab===0.1);
  const yi = 2*gi + 1, xi = 2*gi;
  p.pM.forEach((arr, j) => series.push({type:'scatter', xAxisIndex:xi, yAxisIndex:yi, data:monthly(arr, j===0?0.3:0.75),
    symbol:'rect', symbolSize:3, itemStyle:{color:C.yel}, silent:true, z:1}));
  p.pD.forEach((arr, j) => series.push({type:'scatter', xAxisIndex:xi, yAxisIndex:yi, data:monthly(arr, j===0?0.55:0.1),
    symbol:'rect', symbolSize:2.5, itemStyle:{color:C.brn}, silent:true, z:1}));
  series.push({type:'line', xAxisIndex:xi, yAxisIndex:yi, data:p.gD, smooth:0.5, showSymbol:false,
    lineStyle:{color:C.obs, width:1.3}, z:3});
  series.push({type:'line', xAxisIndex:xi, yAxisIndex:yi, data:p.gM, smooth:0.5, showSymbol:false,
    lineStyle:{color:C.mod, width:1.3}, z:3});
  series.push({type:'line', xAxisIndex:xi, yAxisIndex:yi, data:p.sM, smooth:0.35, showSymbol:false,
    lineStyle:{color:C.mag, width:2.6}, z:4});
  series.push({type:'line', xAxisIndex:xi, yAxisIndex:yi, data:p.sD, smooth:0.35, showSymbol:false,
    lineStyle:{color:C.cyan, width:2.6}, z:5});
  graphic.push({type:'text', left:p.tx, top:TOPS[k]+p.ty-6, style:{text:p.tag, fontFamily:FONT, fontSize:11, fill:TXT}});
});

graphic.push({type:'text', x:754, y:344, rotation:Math.PI/2,
  style:{text:'SF\u2086 Seasonal cycle (data: brown, model: yellow; fitted data: cyan, fitted model: magenta) [in ppt] and growth rate (fitted data: black, fitted model: red) [in ppt yr\u207B\u00B9]',
    fontFamily:FONT, fontSize:10, fill:TXT, textAlign:'center', textVerticalAlign:'middle'}});

const chart = echarts.init(document.getElementById('c'), null, {renderer:'canvas'});
chart.setOption({animation:false, backgroundColor:'#fff', grid, xAxis, yAxis, series, legend, graphic});
</script></body></html>
